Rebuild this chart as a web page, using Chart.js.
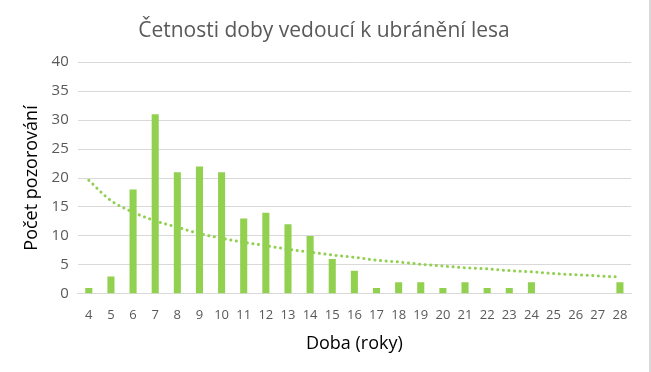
<!DOCTYPE html>
<html lang="cs">
<head>
  <meta charset="UTF-8" />
  <title>Četnosti doby vedoucí k ubránění lesa</title>
  <script src="https://cdn.jsdelivr.net/npm/chart.js"></script>
  <style>
    html, body { margin: 0; padding: 0; background: #fff; }
    .chart-box {
      position: relative;
      width: 649px;
      height: 372px;
      border-right: 2px solid #d9d9d9;
    }
  </style>
</head>
<body>
  <div class="chart-box">
    <canvas id="chart"></canvas>
  </div>

  <script>
    // categories (years)
    const years = ['4','5','6','7','8','9','10','11','12','13','14','15','16',
                   '17','18','19','20','21','22','23','24','25','26','27','28'];
    // observed counts
    const counts = [1, 3, 18, 31, 21, 22, 21, 13, 14, 12, 10, 6, 4,
                    1, 2, 2, 1, 2, 1, 1, 2, 0, 0, 0, 2];
    // dotted trend line
    const trend = [19.6, 16.1, 14.1, 12.6, 11.5, 10.4, 9.6, 8.9, 8.3, 7.7, 7.2, 6.7, 6.3,
                   5.8, 5.5, 5.1, 4.8, 4.5, 4.3, 4.0, 3.8, 3.5, 3.3, 3.1, 2.9];
    const yTicks = [0, 5, 10, 15, 20, 25, 30, 35, 40];

    const green = '#92d050';
    const grey = '#595959';
    const font = "'Open Sans', 'Liberation Sans', sans-serif";

    new Chart(document.getElementById('chart'), {
      data: {
        labels: years,
        datasets: [
          {
            type: 'line',
            label: 'Trend',
            data: trend,
            borderColor: green,
            borderWidth: 3,
            borderDash: [0.1, 5.5],
            borderCapStyle: 'round',
            pointRadius: 0,
            fill: false,
            cubicInterpolationMode: 'monotone',
            order: 0
          },
          {
            type: 'bar',
            label: 'Počet',
            data: counts,
            backgroundColor: green,
            barPercentage: 0.32,
            categoryPercentage: 1,
            order: 1
          }
        ]
      },
      options: {
        responsive: true,
        maintainAspectRatio: false,
        animation: false,
        layout: { padding: { left: 17, right: 18, top: 16, bottom: 17 } },
        plugins: {
          legend: { display: false },
          tooltip: { enabled: false },
          title: {
            display: true,
            text: 'Četnosti doby vedoucí k ubránění lesa',
            color: grey,
            font: { family: font, size: 21, weight: 'normal' },
            padding: { top: 2, bottom: 19 }
          }
        },
        scales: {
          x: {
            grid: { display: false },
            border: { color: '#d9d9d9' },
            ticks: { color: grey, font: { family: font, size: 13 }, maxRotation: 0, autoSkip: false, padding: 6 },
            title: {
              display: true,
              text: 'Doba (roky)',
              color: '#000',
              font: { family: font, size: 18 },
              padding: { top: 4, bottom: 0 }
            }
          },
          y: {
            min: 0,
            max: 40,
            afterBuildTicks: axis => { axis.ticks = yTicks.map(v => ({ value: v })); },
            grid: { color: '#d9d9d9', drawTicks: false },
            border: { display: false },
            ticks: { color: grey, font: { family: font, size: 15 }, padding: 9 },
            title: {
              display: true,
              text: 'Počet pozorování',
              color: '#000',
              font: { family: font, size: 18 },
              padding: { bottom: 0 }
            }
          }
        }
      }
    });
  </script>
</body>
</html>
